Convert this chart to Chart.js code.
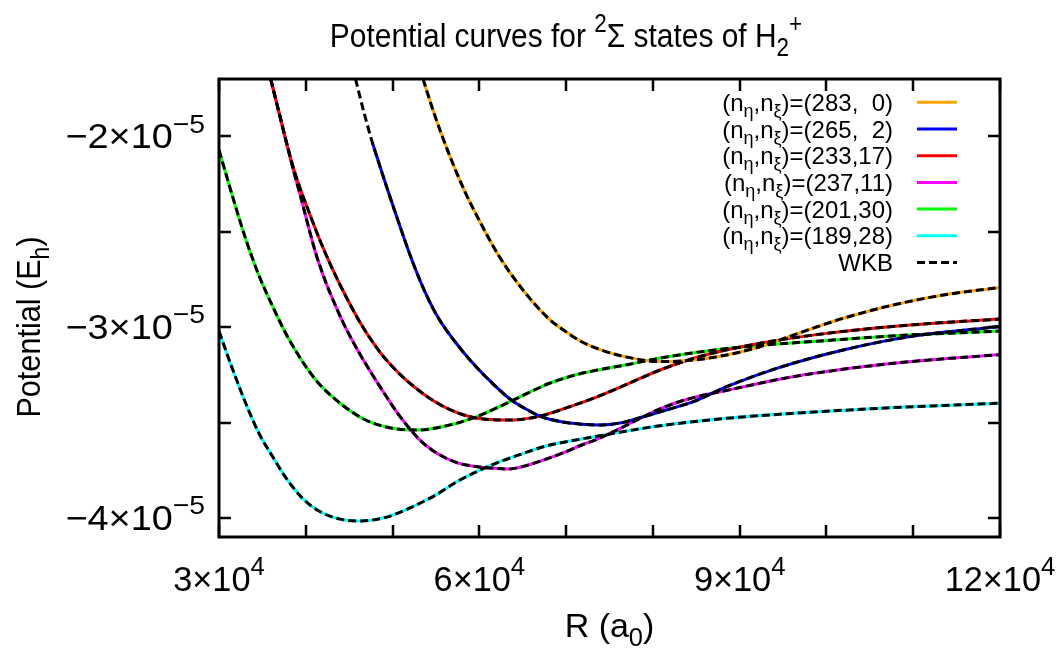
<!DOCTYPE html>
<html>
<head>
<meta charset="utf-8">
<script src="https://cdn.jsdelivr.net/npm/chart.js@4.4.0/dist/chart.umd.min.js"></script>
<style>
  html, body { margin: 0; padding: 0; background: #fff; }
  #wrap { width: 1062px; height: 651px; }
</style>
</head>
<body>
<div id="wrap"><canvas id="potChart" width="1062" height="651"></canvas></div>
<script>
// R in bohr (a0), potential in units of 1e-5 hartree
const r283_0 = [53507, 54890, 56422, 58347, 60271, 62184, 64880, 67946, 69870, 71795, 74249, 76783, 80816, 84654, 88502, 92340, 96177, 99023, 101939, 107700, 113462, 120000];
const v283_0 = [-1.7, -1.894, -2.083, -2.291, -2.465, -2.622, -2.797, -2.954, -3.021, -3.077, -3.123, -3.155, -3.181, -3.173, -3.146, -3.103, -3.042, -2.997, -2.954, -2.884, -2.832, -2.792];

const r265_2 = [47665, 49209, 50741, 52274, 53818, 55351, 57655, 59188, 60732, 63417, 65260, 67185, 69293, 71795, 73903, 76208, 78893, 81739, 84655, 88502, 94264, 101939, 109623, 120000];
const v265_2 = [-2.032, -2.25, -2.457, -2.654, -2.824, -2.958, -3.103, -3.186, -3.26, -3.373, -3.427, -3.47, -3.495, -3.509, -3.513, -3.503, -3.47, -3.432, -3.391, -3.312, -3.216, -3.12, -3.05, -2.997];
// the WKB curve of (265,2) goes on above the point where the exact curve stops
const r265_2wkbTop = [45729, 46709];
const v265_2wkbTop = [-1.7, -1.876];

const r233_17 = [35957, 36912, 37870, 38642, 39414, 40371, 41523, 43056, 44600, 46328, 48437, 49969, 51513, 54578, 57655, 60732, 63797, 67185, 71022, 74099, 76783, 80816, 85426, 92340, 100026, 109623, 120000];
const v233_17 = [-1.7, -1.875, -2.05, -2.177, -2.282, -2.397, -2.533, -2.694, -2.837, -2.981, -3.125, -3.207, -3.275, -3.382, -3.452, -3.483, -3.487, -3.464, -3.408, -3.356, -3.304, -3.225, -3.154, -3.085, -3.033, -2.989, -2.958];

const r237_11 = [35957, 36912, 37870, 38642, 39414, 40175, 41143, 42295, 43448, 44404, 46132, 48437, 50741, 53046, 54544, 56123, 57655, 59188, 60732, 62264, 63336, 64569, 65837, 67946, 69870, 71795, 73328, 75055, 77936, 80816, 83121, 85426, 87730, 96176, 107700, 120000];
const v237_11 = [-1.7, -1.875, -2.05, -2.189, -2.318, -2.451, -2.612, -2.764, -2.89, -2.986, -3.133, -3.304, -3.461, -3.587, -3.644, -3.686, -3.714, -3.728, -3.737, -3.741, -3.744, -3.736, -3.72, -3.688, -3.655, -3.618, -3.592, -3.557, -3.492, -3.429, -3.39, -3.361, -3.339, -3.26, -3.19, -3.144];

const r201_30 = [30000, 31533, 33077, 34609, 36142, 37686, 38838, 40175, 41523, 44208, 46904, 49969, 53046, 56123, 59188, 61885, 64569, 66240, 67946, 69870, 71795, 74249, 76783, 81392, 87154, 92916, 99830, 108473, 120000];
const v201_30 = [-2.072, -2.311, -2.538, -2.73, -2.888, -3.032, -3.124, -3.218, -3.297, -3.408, -3.487, -3.53, -3.539, -3.518, -3.478, -3.426, -3.368, -3.332, -3.297, -3.267, -3.242, -3.22, -3.199, -3.158, -3.12, -3.094, -3.071, -3.044, -3.021];

const r189_28 = [30000, 31533, 33077, 34609, 36142, 37686, 39599, 41523, 43828, 46328, 49209, 51894, 54971, 57655, 59960, 62264, 64569, 67369, 71598, 75055, 80816, 88502, 96176, 107700, 120000];
const v189_28 = [-3.021, -3.217, -3.399, -3.557, -3.676, -3.788, -3.896, -3.964, -4.005, -4.016, -3.997, -3.95, -3.88, -3.804, -3.752, -3.707, -3.67, -3.627, -3.588, -3.56, -3.517, -3.478, -3.452, -3.422, -3.399];

const seriesR = [r283_0, r265_2, r233_17, r237_11, r201_30, r189_28];
const seriesV = [v283_0, v265_2, v233_17, v237_11, v201_30, v189_28];
const seriesLabels = [
  '(n_{η},n_{ξ})=(283,  0)',
  '(n_{η},n_{ξ})=(265,  2)',
  '(n_{η},n_{ξ})=(233,17)',
  '(n_{η},n_{ξ})=(237,11)',
  '(n_{η},n_{ξ})=(201,30)',
  '(n_{η},n_{ξ})=(189,28)'
];
const seriesColors = ['#ffa500', '#0000ff', '#ff0000', '#ff00ff', '#00ff00', '#00ffff'];
const wkbLabel = 'WKB';

const xTickValues = [30000, 40000, 50000, 60000, 70000, 80000, 90000, 100000, 110000, 120000];
const xLabelValues = [30000, 60000, 90000, 120000];
const xLabelText = ['3×10^{4}', '6×10^{4}', '9×10^{4}', '12×10^{4}'];
const yTickValues = [-4, -3.5, -3, -2.5, -2];
const yLabelValues = [-2, -3, -4];
const yLabelText = ['−2×10^{−5}', '−3×10^{−5}', '−4×10^{−5}'];

const FONT = '"Liberation Sans", Arial, sans-serif';
const DASH = [8, 4];

function toPoints(rs, vs) {
  return rs.map((r, i) => ({ x: r, y: vs[i] }));
}

// tiny markup: ^{..} superscript, _{..} subscript
function parseRich(str) {
  const out = [];
  let buf = '';
  let i = 0;
  while (i < str.length) {
    const c = str[i];
    if ((c === '^' || c === '_') && str[i + 1] === '{') {
      if (buf) { out.push({ t: buf, m: 0 }); buf = ''; }
      const end = str.indexOf('}', i);
      out.push({ t: str.slice(i + 2, end), m: c === '^' ? 1 : -1 });
      i = end + 1;
    } else {
      buf += c;
      i++;
    }
  }
  if (buf) out.push({ t: buf, m: 0 });
  return out;
}

// draws text with sub/superscripts; sx squeezes it sideways (gnuplot's font is narrow)
function drawRich(ctx, str, x, y, size, align, sx) {
  sx = sx || 1;
  const segs = parseRich(str);
  let w = 0;
  segs.forEach(s => {
    s.size = s.m ? size * 0.75 : size;
    ctx.font = s.size + 'px ' + FONT;
    s.w = ctx.measureText(s.t).width;
    w += s.w;
  });
  ctx.save();
  ctx.translate(x, y);
  ctx.scale(sx, 1);
  let cx = align === 'right' ? -w : (align === 'center' ? -w / 2 : 0);
  ctx.textAlign = 'left';
  ctx.textBaseline = 'alphabetic';
  segs.forEach(s => {
    ctx.font = s.size + 'px ' + FONT;
    const dy = s.m === 1 ? -size * 0.45 : (s.m === -1 ? size * 0.25 : 0);
    ctx.fillText(s.t, cx, dy);
    cx += s.w;
  });
  ctx.restore();
}

const datasets = [];
seriesR.forEach((rs, i) => {
  const pts = toPoints(rs, seriesV[i]);
  const wkbPts = i === 1 ? toPoints(r265_2wkbTop, v265_2wkbTop).concat(pts) : pts;
  datasets.push({
    label: wkbLabel,
    data: wkbPts,
    borderColor: '#000000',
    borderDash: DASH,
    borderWidth: 3,
    order: 0
  });
  datasets.push({
    label: seriesLabels[i],
    data: pts,
    borderColor: seriesColors[i],
    borderWidth: 3,
    order: 1
  });
});

const gnuplotFrame = {
  id: 'gnuplotFrame',
  afterDraw(chart) {
    const ctx = chart.ctx;
    const a = chart.chartArea;
    const xs = chart.scales.x;
    const ys = chart.scales.y;
    ctx.save();
    ctx.strokeStyle = '#000';
    ctx.fillStyle = '#000';

    // inward ticks on all four sides
    ctx.lineWidth = 2.5;
    ctx.beginPath();
    xTickValues.forEach(v => {
      const px = Math.round(xs.getPixelForValue(v));
      ctx.moveTo(px, a.bottom); ctx.lineTo(px, a.bottom - 12);
      ctx.moveTo(px, a.top); ctx.lineTo(px, a.top + 12);
    });
    yTickValues.forEach(v => {
      const py = Math.round(ys.getPixelForValue(v));
      ctx.moveTo(a.left, py); ctx.lineTo(a.left + 12, py);
      ctx.moveTo(a.right, py); ctx.lineTo(a.right - 12, py);
    });
    ctx.stroke();

    ctx.lineWidth = 3;
    ctx.strokeRect(a.left, a.top, a.right - a.left, a.bottom - a.top);

    // tick labels
    xLabelValues.forEach((v, i) => {
      drawRich(ctx, xLabelText[i], xs.getPixelForValue(v), 591, 35, 'center', 0.98);
    });
    yLabelValues.forEach((v, i) => {
      drawRich(ctx, yLabelText[i], 205, ys.getPixelForValue(v) + 12, 35, 'right', 1.08);
    });

    // axis titles and title
    drawRich(ctx, 'R (a_{0})', (a.left + a.right) / 2, 637, 34, 'center', 1);
    ctx.save();
    ctx.translate(40, (a.top + a.bottom) / 2 + 19);
    ctx.rotate(-Math.PI / 2);
    drawRich(ctx, 'Potential (E_{h})', 0, 0, 34, 'center', 0.9);
    ctx.restore();
    drawRich(ctx, 'Potential curves for ^{2}Σ states of H_{2}^{+}', 566, 47, 34, 'center', 0.88);

    // key, top right inside the frame
    const rowH = 26.7;
    const y0 = 102.3;
    seriesLabels.concat([wkbLabel]).forEach((lab, i) => {
      const ry = y0 + i * rowH;
      ctx.fillStyle = '#000';
      drawRich(ctx, lab, 893, ry + 8.5, 24, 'right', 1);
      ctx.beginPath();
      ctx.lineWidth = 3;
      if (i < seriesColors.length) {
        ctx.setLineDash([]);
        ctx.strokeStyle = seriesColors[i];
      } else {
        ctx.setLineDash(DASH);
        ctx.strokeStyle = '#000';
      }
      ctx.moveTo(917, ry);
      ctx.lineTo(957, ry);
      ctx.stroke();
      ctx.setLineDash([]);
    });
    ctx.restore();
  }
};

new Chart(document.getElementById('potChart'), {
  type: 'line',
  data: { datasets: datasets },
  options: {
    responsive: false,
    animation: false,
    elements: {
      point: { radius: 0 },
      line: { cubicInterpolationMode: 'monotone', fill: false }
    },
    layout: { padding: { left: 219, top: 79, right: 62, bottom: 114 } },
    plugins: {
      legend: { display: false },
      tooltip: { enabled: false },
      title: { display: false }
    },
    scales: {
      x: { type: 'linear', min: 30000, max: 120000, display: false },
      y: { type: 'linear', min: -4.1, max: -1.7, display: false }
    }
  },
  plugins: [gnuplotFrame]
});
</script>
</body>
</html>
